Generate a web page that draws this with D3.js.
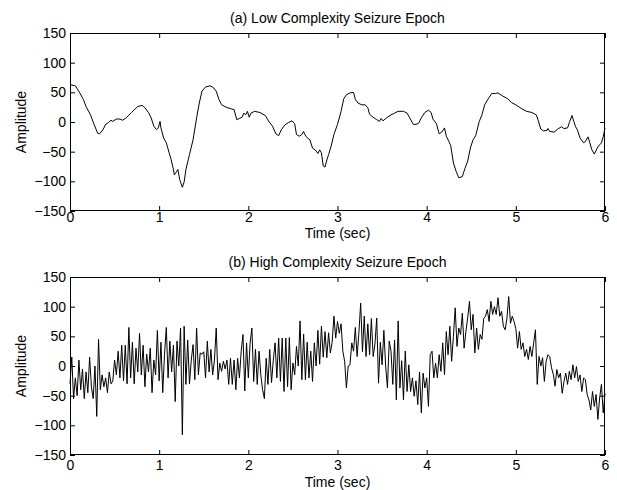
<!DOCTYPE html>
<html>
<head>
<meta charset="utf-8">
<script src="https://cdn.jsdelivr.net/npm/d3@7"></script>
<style>
  body { margin: 0; background: #fff; }
  svg text { font-family: "Liberation Sans", Arial, Helvetica, sans-serif; font-size: 14px; fill: #000; }
</style>
</head>
<body>
<div id="chart"></div>
<script>
// (a) low complexity epoch
var lowTimes = [0, 0.06, 0.11, 0.15, 0.18, 0.23, 0.27, 0.31, 0.33, 0.37, 0.40, 0.43, 0.46, 0.48, 0.52, 0.56, 0.59, 0.63, 0.69, 0.73,
  0.76, 0.81, 0.84, 0.88, 0.91, 0.94, 0.97, 0.99, 1.01, 1.02, 1.05, 1.08, 1.11, 1.13, 1.16, 1.17, 1.19, 1.21, 1.23, 1.26,
  1.28, 1.30, 1.34, 1.38, 1.42, 1.45, 1.48, 1.52, 1.57, 1.60, 1.64, 1.67, 1.70, 1.75, 1.81, 1.84, 1.87, 1.90, 1.93, 1.95,
  1.97, 1.99, 2.01, 2.03, 2.07, 2.13, 2.19, 2.23, 2.27, 2.31, 2.34, 2.37, 2.41, 2.45, 2.49, 2.52, 2.54, 2.57, 2.60, 2.62,
  2.63, 2.65, 2.69, 2.72, 2.75, 2.78, 2.80, 2.82, 2.84, 2.86, 2.88, 2.90, 2.93, 2.96, 3.00, 3.04, 3.07, 3.10, 3.14, 3.18,
  3.20, 3.23, 3.27, 3.31, 3.34, 3.36, 3.40, 3.44, 3.47, 3.49, 3.51, 3.55, 3.60, 3.64, 3.68, 3.74, 3.78, 3.81, 3.85, 3.88,
  3.91, 3.94, 3.98, 4.02, 4.05, 4.07, 4.11, 4.14, 4.17, 4.20, 4.22, 4.25, 4.27, 4.30, 4.33, 4.36, 4.40, 4.43, 4.46, 4.49,
  4.52, 4.55, 4.59, 4.62, 4.65, 4.69, 4.73, 4.77, 4.80, 4.85, 4.91, 4.95, 5.01, 5.07, 5.12, 5.18, 5.23, 5.25, 5.28, 5.31,
  5.35, 5.36, 5.38, 5.43, 5.47, 5.51, 5.54, 5.58, 5.60, 5.63, 5.65, 5.67, 5.69, 5.72, 5.76, 5.78, 5.81, 5.83, 5.85, 5.88,
  5.92, 5.96, 5.98, 6.00];
var lowValues = [63, 61, 49, 38, 26, 12, -4, -19, -20, -13, -4, -1, 3, 1, 5, 5, 3, 7, 16, 22,
  26, 28, 24, 16, 7, -7, -13, -10, 1, -10, -27, -35, -51, -61, -80, -89, -85, -80, -97, -110,
  -101, -80, -55, -30, 7, 32, 52, 59, 61, 59, 52, 38, 29, 25, 22, 21, 4, 6, 8, 15,
  12, 18, 8, 15, 18, 16, 11, 1, -7, -20, -23, -13, -5, -1, 2, -3, -21, -24, -21, -16,
  -20, -25, -30, -44, -47, -53, -47, -52, -74, -76, -64, -55, -40, -21, -4, 18, 39, 46, 49, 50,
  38, 32, 29, 29, 24, 13, 8, 4, 1, 6, 2, 7, 12, 15, 18, 18, 15, 7, -4, -4,
  -2, 7, 16, 20, 16, 5, -3, -20, -17, -10, -24, -33, -40, -69, -83, -94, -92, -78, -66, -44,
  -30, -23, 1, 12, 29, 39, 48, 48, 49, 44, 39, 33, 28, 22, 18, 16, 12, 3, -12, -15,
  -14, -11, -16, -17, -12, -8, -11, -10, -1, 11, 1, -8, -13, -27, -35, -33, -25, -35, -46, -54,
  -42, -35, -25, -10];

// (b) high complexity epoch, one value every 0.02 sec
var highStep = 0.02;
var highValues = [
  -30, 15, -55, -20, -50,   10, -40, -5, -55, -10,
  -45, 15, -35, -55, 0,     -85, 45, -40, -15, -35,
  -20, -45, -10, -30, -25,  10, -15, 25, -20, 35,
  -25, 35, -30, 65, -20,    40, -30, 30, -10, 55,
  -15, 35, -35, 20, -10,    30, -45, 10, -15, 60,
  -25, 40, -45, 20, 65,     -20, 42, -10, 35, -60,
  42, 0, 64, -116, 67,      -31, 44, -30, 10, 36,
  -23, 64, -15, 22, 20,     24, -20, 42, -10, 28,
  -15, 10, 64, -23, 5,      -9, 8, -5, 10, -31,
  13, -31, 10, -40, 13,     -20, 25, 53, -42, 39,
  -20, 39, 64, -26, 28,     -31, 25, -15, -40, -55,
  13, -31, 28, -28, 10,     39, -20, 47, -26, 47,
  -43, 47, -35, 48, -40,    5, -15, 33, 0, 76,
  -23, 54, -23, 40, -20,    25, -26, 39, 0, 60,
  3, 67, 15, 58, 14,        56, 22, 40, 84, 47,
  75, 55, 71, 25, 8,        -37, 0, 2, 39, 25,
  65, 16, 56, 106, 24,      84, 16, 71, 19, 80,
  16, 37, 81, -29, 40,      2, 60, 0, -37, 42,
  25, -31, 44, -57, 76,     -37, 9, -57, 25, -43,
  2, -43, -20, -51, -25,    -65, -10, -79, -12, -37,
  -20, -68, 19, 25, -20,    5, -20, 19, -9, 39,
  -15, 58, 19, 67, 8,       50, 98, 33, 64, 53,
  89, 30, 58, 81, 109,      61, 87, 22, 64, 28,
  53, 45, 80, 84, 95,       75, 109, 87, 100, 87,
  115, 84, 92, 67, 61,      80, 117, 72, 84, 75,
  63, 30, 58, 28, 39,       16, 28, 11, 33, 16,
  39, 61, -31, 16, 0,       14, -26, 8, 19, 16,
  -3, -14, -34, -6, -20,    -12, -46, -26, -12, -31,
  -9, -23, 2, -20, -1,      -26, -15, -43, -20, -23,
  -48, -57, -74, -43, -68,  -48, -90, -54, -31, -79,
  -46];

var xTicks = [0, 1, 2, 3, 4, 5, 6];
var yTicks = [-150, -100, -50, 0, 50, 100, 150];
var titles = ["(a) Low Complexity Seizure Epoch", "(b) High Complexity Seizure Epoch"];
var xLabel = "Time (sec)";
var yLabel = "Amplitude";

var width = 617, height = 490;
var left = 70, right = 605;

var lowData = lowTimes.map(function(t, i) { return {t: t, v: lowValues[i]}; });
var highData = highValues.map(function(v, i) { return {t: i * highStep, v: v}; });

var svg = d3.select("#chart").append("svg")
  .attr("width", width)
  .attr("height", height);

var x = d3.scaleLinear().domain([0, 6]).range([left, right]);
var fmt = d3.format("d");

function panel(top, bottom, data, title, xPad, xLabelY) {
  var y = d3.scaleLinear().domain([-150, 150]).range([bottom, top]);
  var g = svg.append("g");

  g.append("g")
    .attr("transform", "translate(0," + bottom + ")")
    .call(d3.axisBottom(x).tickValues(xTicks).tickFormat(fmt).tickSizeInner(-5).tickSizeOuter(0).tickPadding(xPad));
  g.append("g")
    .attr("transform", "translate(0," + top + ")")
    .call(d3.axisTop(x).tickValues(xTicks).tickSizeInner(-5).tickSizeOuter(0).tickFormat(""));
  g.append("g")
    .attr("transform", "translate(" + left + ",0)")
    .call(d3.axisLeft(y).tickValues(yTicks).tickFormat(fmt).tickSizeInner(-5).tickSizeOuter(0).tickPadding(4));
  g.append("g")
    .attr("transform", "translate(" + right + ",0)")
    .call(d3.axisRight(y).tickValues(yTicks).tickSizeInner(-5).tickSizeOuter(0).tickFormat(""));

  g.selectAll(".domain").remove();
  g.selectAll(".tick line").attr("stroke", "#000");

  var line = d3.line()
    .x(function(d) { return x(d.t); })
    .y(function(d) { return y(d.v); });

  g.append("path")
    .datum(data)
    .attr("d", line)
    .attr("fill", "none")
    .attr("stroke", "#000")
    .attr("stroke-width", 1);

  g.append("rect")
    .attr("x", left + 0.5)
    .attr("y", top + 0.5)
    .attr("width", right - left - 1)
    .attr("height", bottom - top - 1)
    .attr("fill", "none")
    .attr("stroke", "#000")
    .attr("stroke-width", 1);

  g.append("text")
    .attr("x", (left + right) / 2)
    .attr("y", top - 10)
    .style("text-anchor", "middle")
    .text(title);

  g.append("text")
    .attr("x", (left + right) / 2)
    .attr("y", xLabelY)
    .style("text-anchor", "middle")
    .text(xLabel);

  g.append("text")
    .attr("transform", "translate(26," + y(0) + ") rotate(-90)")
    .style("text-anchor", "middle")
    .text(yLabel);
}

panel(33, 211, lowData, titles[0], 1, 238);
panel(277, 455, highData, titles[1], 5, 487);
</script>
</body>
</html>
